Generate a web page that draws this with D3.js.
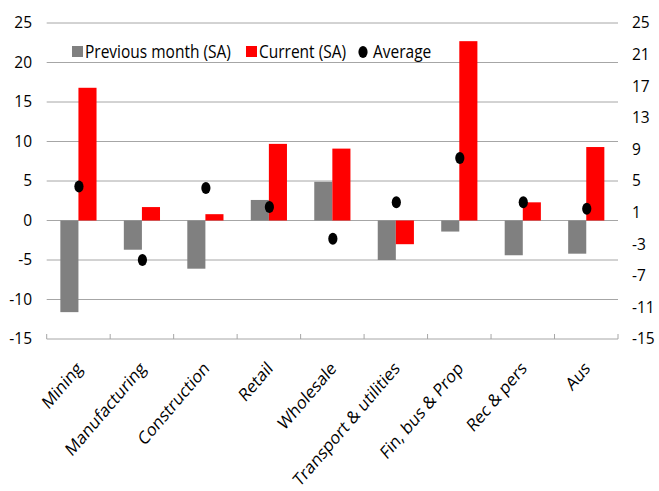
<!DOCTYPE html>
<html>
<head>
<meta charset="utf-8">
<script src="https://cdn.jsdelivr.net/npm/d3@7"></script>
<style>
  html, body { margin: 0; padding: 0; background: #fff; }
  svg { display: block; font-family: "Open Sans", Lato, sans-serif; }
</style>
</head>
<body>
<svg id="chart" width="659" height="491"></svg>
<script>
// Industry categories along the x axis
const categories = ["Mining", "Manufacturing", "Construction", "Retail", "Wholesale",
  "Transport & utilities", "Fin, bus & Prop", "Rec & pers", "Aus"];
// Previous month (SA)
const previousMonth = [-11.6, -3.7, -6.1, 2.6, 4.9, -5.0, -1.4, -4.4, -4.2];
// Current (SA)
const current = [16.8, 1.7, 0.8, 9.7, 9.1, -3.0, 22.7, 2.3, 9.3];
// Average (plotted on the secondary axis)
const average = [4.3, -5.0, 4.1, 1.7, -2.3, 2.3, 7.9, 2.3, 1.5];
// Tick labels
const leftTicks = [-15, -10, -5, 0, 5, 10, 15, 20, 25];
const rightTicks = [-15, -11, -7, -3, 1, 5, 9, 13, 17, 21, 25];

const FONT = "'Open Sans', Lato, sans-serif";
const FS = 15.5;
const TALL = 1.17; // glyphs are drawn slightly taller than wide
const fmt = d => String(d); // plain hyphen-minus

const svg = d3.select("#chart");
const plotLeft = 46.7, plotRight = 618, plotTop = 23, plotBottom = 339;

const y = d3.scaleLinear().domain([-15, 25]).range([plotBottom, plotTop]);
const y2 = d3.scaleLinear().domain([-15, 25]).range([plotBottom, plotTop]);
const x = d3.scaleBand().domain(categories).range([plotLeft, plotRight]).padding(0);
const barW = x.bandwidth() * 0.285;

// Horizontal gridlines
svg.append("g").selectAll("line")
  .data(leftTicks.filter(d => d > -15))
  .join("line")
  .attr("x1", plotLeft).attr("x2", plotRight)
  .attr("y1", d => y(d)).attr("y2", d => y(d))
  .attr("stroke", "#a6a6a6").attr("stroke-width", 1);

// Bottom category axis
const xAxis = svg.append("g").attr("transform", `translate(0,${plotBottom})`)
  .call(d3.axisBottom(x).tickSize(0).tickFormat(""));
xAxis.select(".domain").attr("stroke", "#a6a6a6").attr("d", `M${plotLeft},0H${plotRight}`);
const bounds = categories.map(c => x(c)).concat([plotRight]);
svg.append("g").selectAll("line").data(bounds).join("line")
  .attr("x1", d => d).attr("x2", d => d)
  .attr("y1", plotBottom - 5).attr("y2", plotBottom)
  .attr("stroke", "#a6a6a6");

// Category labels, rotated
svg.append("g").selectAll("text").data(categories).join("text")
  .attr("transform", d => `translate(${x(d) + x.bandwidth() / 2 + 1},${plotBottom + 26}) scale(1,${TALL}) rotate(-45)`)
  .attr("text-anchor", "end")
  .attr("dy", "0.35em")
  .attr("font-size", FS)
  .attr("fill", "#000")
  .text(d => d);

// Left value axis labels
svg.append("g").call(d3.axisLeft(y).tickValues(leftTicks).tickFormat(fmt).tickSize(0).tickPadding(0))
  .attr("transform", `translate(32,0)`)
  .call(g => g.select(".domain").remove())
  .call(g => g.selectAll("text").attr("font-size", FS).attr("font-family", FONT).attr("fill", "#000"));

// Right value axis labels
svg.append("g").call(d3.axisRight(y2).tickValues(rightTicks).tickFormat(fmt).tickSize(0).tickPadding(0))
  .attr("transform", `translate(632,0)`)
  .call(g => g.select(".domain").remove())
  .call(g => g.selectAll("text").attr("font-size", FS).attr("font-family", FONT).attr("fill", "#000"));

// Bars
const cx = c => x(c) + x.bandwidth() / 2;
svg.append("g").selectAll("rect").data(categories).join("rect")
  .attr("x", c => cx(c) - barW)
  .attr("width", barW)
  .attr("y", (c, i) => y(Math.max(0, previousMonth[i])))
  .attr("height", (c, i) => Math.abs(y(previousMonth[i]) - y(0)))
  .attr("fill", "#808080");
svg.append("g").selectAll("rect").data(categories).join("rect")
  .attr("x", c => cx(c))
  .attr("width", barW)
  .attr("y", (c, i) => y(Math.max(0, current[i])))
  .attr("height", (c, i) => Math.abs(y(current[i]) - y(0)))
  .attr("fill", "#ff0000");

// Average markers
svg.append("g").selectAll("ellipse").data(categories).join("ellipse")
  .attr("cx", c => cx(c) + 0.5)
  .attr("cy", (c, i) => y2(average[i]))
  .attr("rx", 4.6).attr("ry", 6)
  .attr("fill", "#000");

// Legend
const lg = svg.append("g").attr("font-size", FS).attr("fill", "#000");
lg.append("rect").attr("x", 72).attr("y", 46).attr("width", 11).attr("height", 11).attr("fill", "#808080");
lg.append("text").attr("transform", `translate(85,58) scale(1,${TALL})`).text("Previous month (SA)");
lg.append("rect").attr("x", 246).attr("y", 46).attr("width", 11).attr("height", 11).attr("fill", "#ff0000");
lg.append("text").attr("transform", `translate(259,58) scale(1,${TALL})`).text("Current (SA)");
lg.append("ellipse").attr("cx", 363).attr("cy", 52).attr("rx", 4.6).attr("ry", 6).attr("fill", "#000");
lg.append("text").attr("transform", `translate(373,58) scale(1,${TALL})`).text("Average");
</script>
</body>
</html>
